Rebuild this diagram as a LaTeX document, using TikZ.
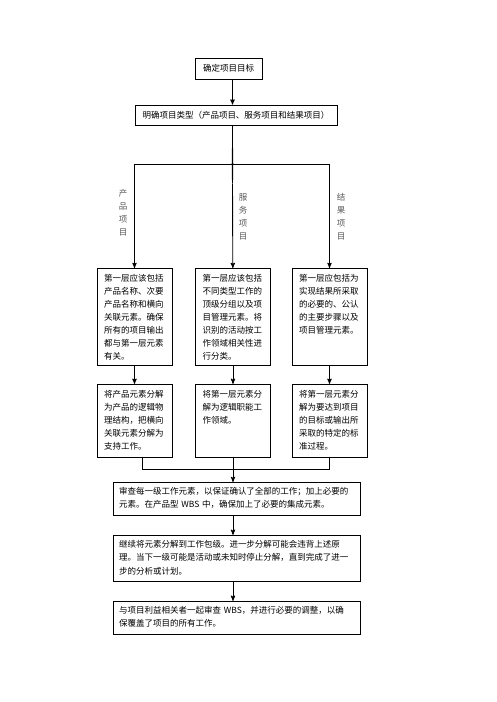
\documentclass[tikz,border=0pt]{standalone}
\usepackage{fontspec}
\newfontfamily\cjk{Noto Sans CJK SC}
\usetikzlibrary{arrows, shapes.geometric, positioning}

\begin{document}
\begin{tikzpicture}[->,>=stealth',x=1pt,y=-1pt,line width=0.9pt,
                    font=\cjk\fontsize{8.5}{13}\selectfont]
  \tikzstyle{every node}=[draw, inner sep=0pt]
  \tikzstyle{small box}=[rectangle, align=left, text width=61pt,
                         inner xsep=7pt, inner ysep=6pt, text height=7pt]
  \tikzstyle{wide box}=[rectangle, align=left, text width=235pt,
                        inner xsep=6pt, inner ysep=5pt, text height=7pt,
                        font=\cjk\fontsize{8.5}{13.5}\selectfont]
  \tikzstyle{side label}=[draw=none, align=center, text=black!65]

  \useasboundingbox (0,0) rectangle (496,702);

  \node[minimum width=67pt, minimum height=21pt] (goal) at (228.5,68.5) {确定项目目标};
  \node[minimum width=202pt, minimum height=20pt] (type) at (236,115)
       {明确项目类型（产品项目、服务项目和结果项目）};
  \node[diamond, minimum height=38pt, shape aspect=0.76] (dia) at (232.5,164) {};

  \node[small box, text depth=78pt, anchor=north] (P1) at (134.5,268)
       {第一层应该包括\\产品名称、次要\\产品名称和横向\\关联元素。确保\\所有的项目输出\\都与第一层元素\\有关。};
  \node[small box, text depth=78pt, anchor=north] (P2) at (233,268)
       {第一层应该包括\\不同类型工作的\\顶级分组以及项\\目管理元素。将\\识别的活动按工\\作领域相关性进\\行分类。};
  \node[small box, text depth=78pt, anchor=north] (P3) at (329.5,268)
       {第一层应包括为\\实现结果所采取\\的必要的、公认\\的主要步骤以及\\项目管理元素。};

  \node[small box, text depth=54pt, below=18pt of P1] (Q1)
       {将产品元素分解\\为产品的逻辑物\\理结构，把横向\\关联元素分解为\\支持工作。};
  \node[small box, text depth=54pt, below=18pt of P2] (Q2)
       {将第一层元素分\\解为逻辑职能工\\作领域。};
  \node[small box, text depth=54pt, below=18pt of P3] (Q3)
       {将第一层元素分\\解为要达到项目\\的目标或输出所\\采取的特定的标\\准过程。};

  \node[side label] (L1) at (123,212.5) {产\\品\\项\\目};
  \node[side label] (L2) at (243,217) {服\\务\\项\\目};
  \node[side label] (L3) at (341,217) {结\\果\\项\\目};

  \node[wide box, text depth=16pt, anchor=north] (S1) at (236.5,482)
       {审查每一级工作元素，以保证确认了全部的工作；加上必要的\\元素。在产品型 WBS 中，确保加上了必要的集成元素。};
  \node[wide box, text depth=29pt, below=19pt of S1] (S2)
       {继续将元素分解到工作包级。进一步分解可能会违背上述原\\理。当下一级可能是活动或未知时停止分解，直到完成了进一\\步的分析或计划。};
  \node[wide box, text depth=16pt, below=19pt of S2] (S3)
       {与项目利益相关者一起审查 WBS，并进行必要的调整，以确\\保覆盖了项目的所有工作。};

  \coordinate (merge) at (233,469);

  \draw (goal.south -| dia.center) -- (type.north -| dia.center);
  \draw[-] (type.south -| dia.center) -- (dia.north);
  \draw (dia.west) -| (P1);
  \draw (dia.south) -- (P2);
  \draw (dia.east) -| (P3);
  \draw (P1) -- (Q1);
  \draw (P2) -- (Q2);
  \draw (P3) -- (Q3);
  \draw[-] ([xshift=7.5pt]Q1.south) |- (merge);
  \draw[-] (Q3.south -| P3) |- (merge);
  \draw[-] (Q2) -- (merge);
  \draw (merge) -- (S1.north -| merge);
  \draw (S1.south -| merge) -- (S2.north -| merge);
  \draw (S2.south -| merge) -- (S3.north -| merge);
\end{tikzpicture}
\end{document}
